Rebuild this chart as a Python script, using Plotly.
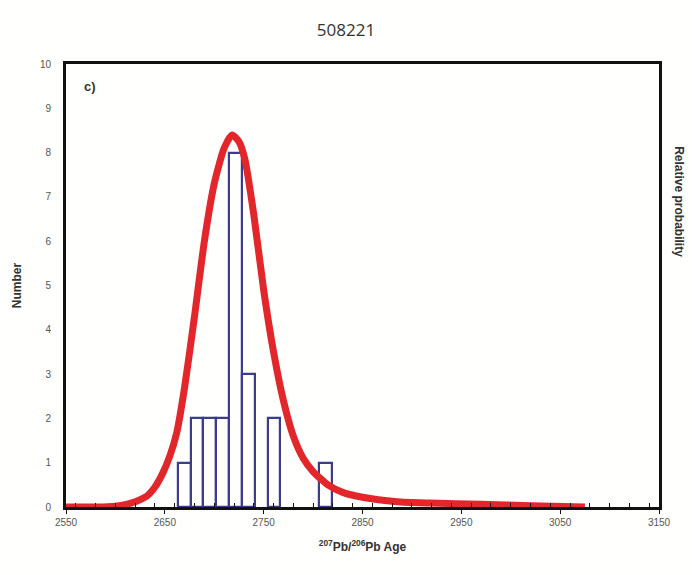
import plotly.graph_objects as go

# Histogram bins (207Pb/206Pb age, bin width 13 Ma)
bin_centers = [2669.5, 2682.5, 2695.5, 2708.5, 2721.5, 2734.5, 2760.5, 2812.5]
bin_counts = [1, 2, 2, 2, 8, 3, 2, 1]
bin_width = 13

# Relative probability curve (scaled to Number axis)
curve_age = [2550, 2580, 2600, 2611, 2620, 2632, 2640, 2648, 2655, 2662, 2670, 2680,
             2690, 2700, 2710, 2718, 2725, 2731, 2740, 2750, 2760, 2770, 2780, 2790,
             2800, 2815, 2830, 2850, 2885, 2918, 2970, 3020, 3075]
curve_prob = [0.0, 0.0, 0.02, 0.06, 0.12, 0.25, 0.45, 0.77, 1.15, 1.67, 2.7, 4.3,
              6.0, 7.3, 8.1, 8.4, 8.25, 7.85, 6.6, 4.9, 3.5, 2.4, 1.6, 1.1,
              0.8, 0.5, 0.33, 0.22, 0.12, 0.09, 0.06, 0.03, 0.0]

x_ticks = [2550, 2650, 2750, 2850, 2950, 3050, 3150]
y_ticks = list(range(0, 11))

fig = go.Figure()
fig.add_trace(go.Bar(
    x=bin_centers, y=bin_counts, width=bin_width,
    marker=dict(color="rgba(255,255,255,0)", line=dict(color="#3c3c8e", width=2.2)),
    showlegend=False,
))
fig.add_trace(go.Scatter(
    x=curve_age, y=curve_prob, mode="lines", yaxis="y2",
    line=dict(color="#e3262a", width=7, shape="spline", smoothing=0.6),
    showlegend=False,
))

tick_font = dict(family="Liberation Sans, Arial", size=10, color="#555555")
fig.update_layout(
    width=692, height=575,
    margin=dict(l=66, r=33, t=64, b=68),
    paper_bgcolor="#fffffd", plot_bgcolor="#fffffd",
    title=dict(text="508221", x=0.5, xanchor="center", y=0.948, yanchor="middle",
               font=dict(family="Open Sans", size=17, color="#333333")),
    xaxis=dict(range=[2550, 3150], tickvals=x_ticks, ticktext=[str(v) for v in x_ticks],
               showgrid=False, zeroline=False, showline=True, linecolor="#111111", linewidth=3,
               mirror=True, ticks="outside", ticklen=4, tickcolor="#111111", tickfont=tick_font,
               minor=dict(dtick=20, ticks="inside", ticklen=4, tickcolor="#111111"),
               title=dict(text="<b><sup>207</sup>Pb/<sup>206</sup>Pb Age</b>",
                          font=dict(family="Liberation Sans, Arial", size=12, color="#333333"),
                          standoff=16)),
    yaxis=dict(range=[0, 10], tickvals=y_ticks, showgrid=False, zeroline=False,
               showline=True, linecolor="#111111", linewidth=3, mirror=True,
               ticks="", tickfont=tick_font, ticklabelstandoff=10,
               title=dict(text="<b>Number</b>",
                          font=dict(family="Liberation Sans, Arial", size=12, color="#333333"),
                          standoff=16)),
    yaxis2=dict(range=[0, 10], overlaying="y", side="right", showticklabels=False,
                showgrid=False, zeroline=False, ticks=""),
    annotations=[
        dict(text="<b>c)</b>", x=2566, y=9.5, xref="x", yref="y", showarrow=False,
             xanchor="left", font=dict(family="Liberation Sans, Arial", size=13, color="#333333")),
        dict(text="<b>Relative probability</b>", x=1.034, y=0.69, xref="paper", yref="paper",
             xanchor="center", yanchor="middle",
             textangle=90, showarrow=False,
             font=dict(family="Liberation Sans, Arial", size=12, color="#333333")),
    ],
    bargap=0,
)
fig.write_html("out.html")
